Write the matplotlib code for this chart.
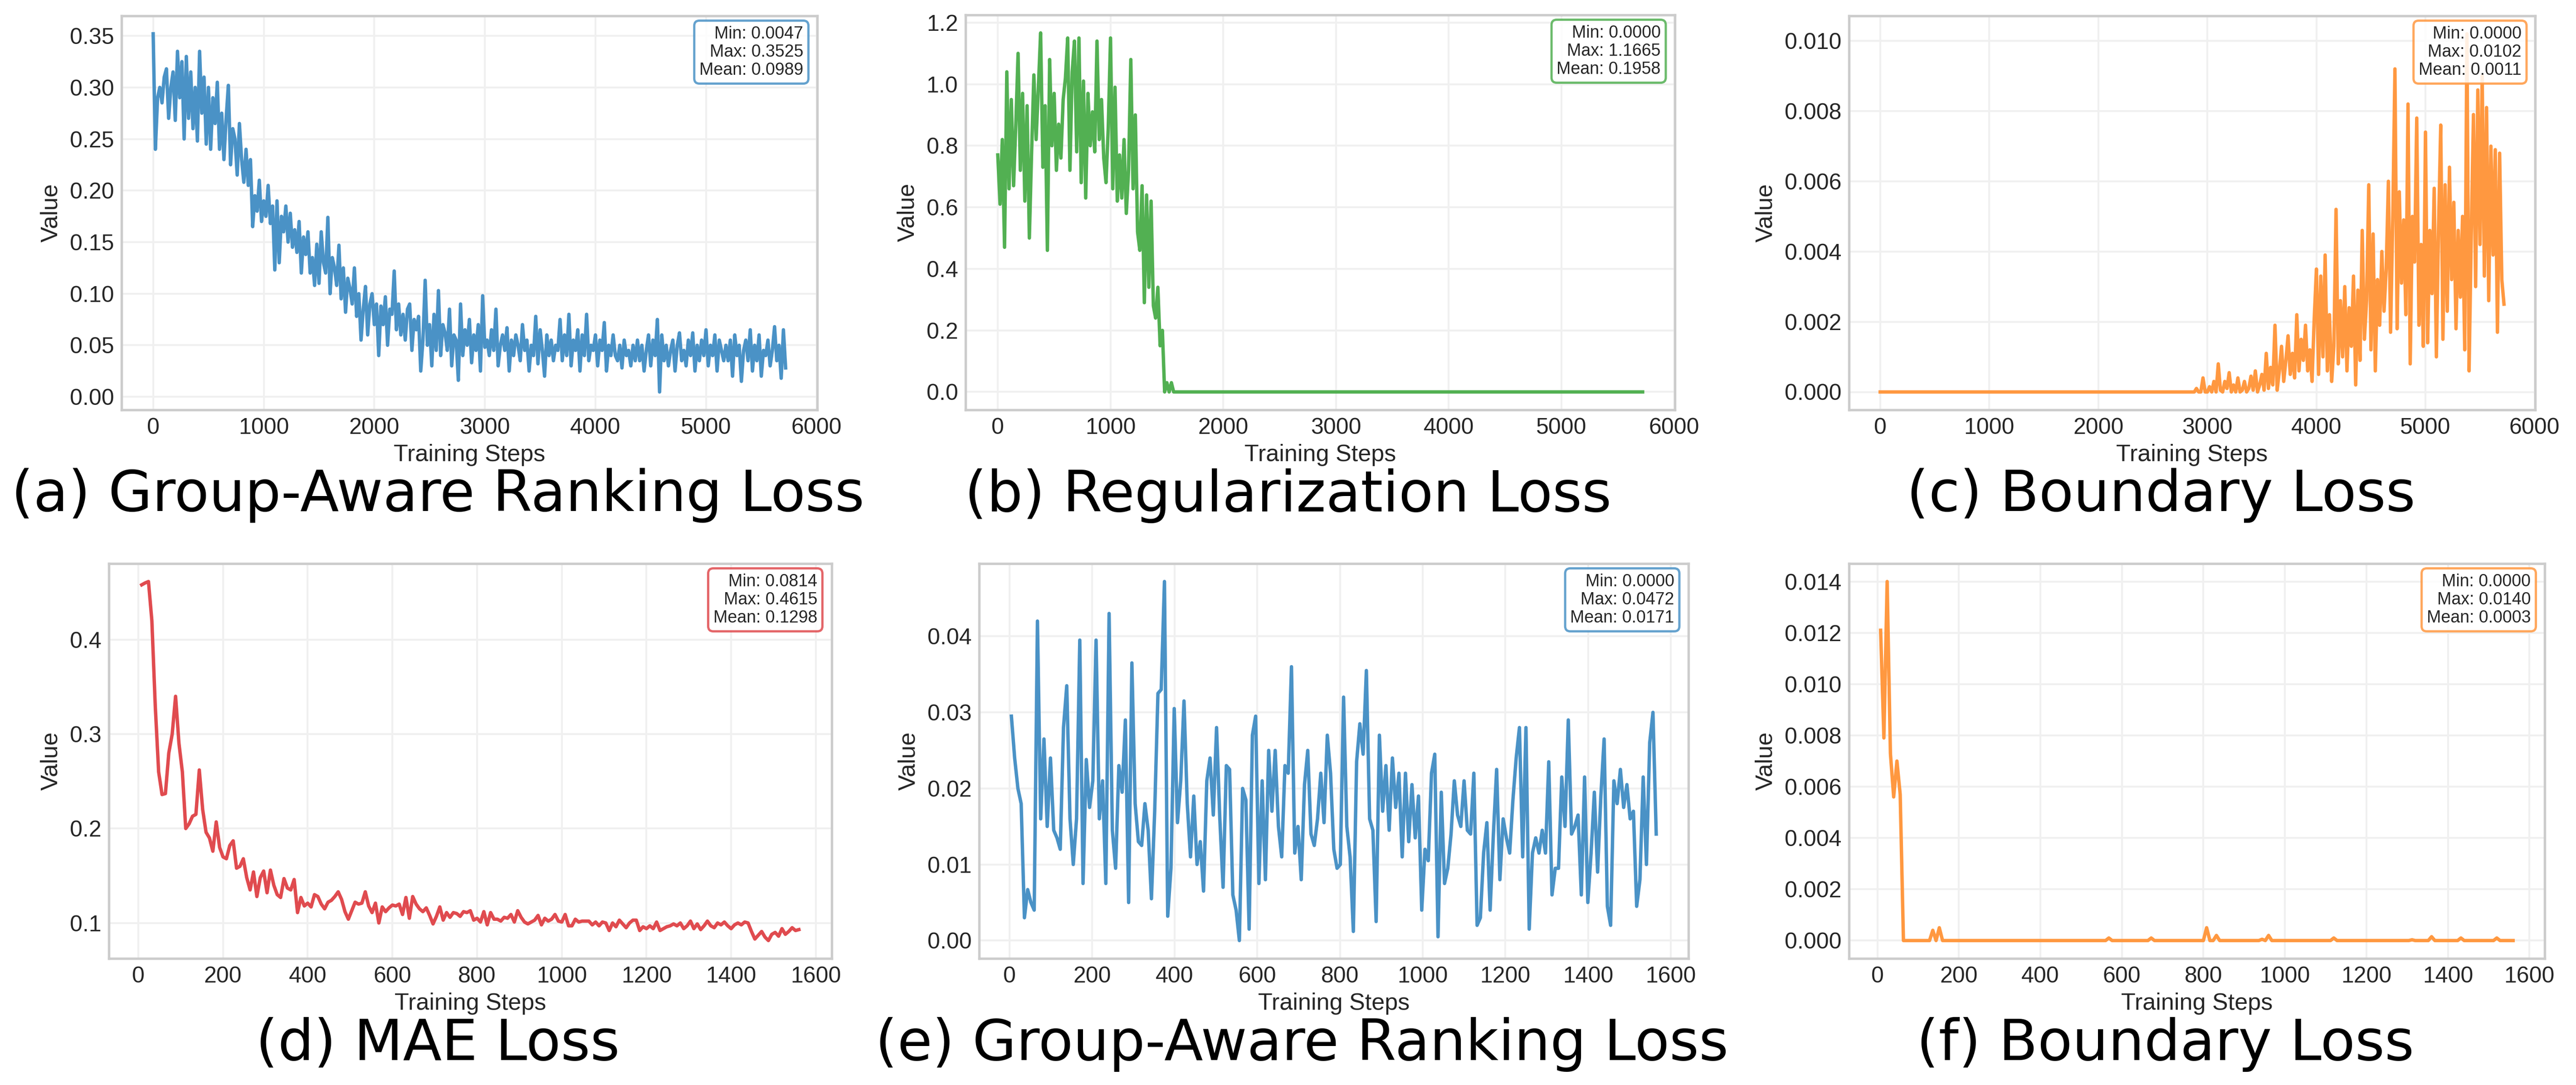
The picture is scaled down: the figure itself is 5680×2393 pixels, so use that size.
import numpy as np
import matplotlib.pyplot as plt

# ---------------- données ----------------
# run 1 (panneaux a-c) : un point toutes les 20 itérations
steps_long = np.arange(0, 5740, 20)

rank_loss_long = [
    0.352, 0.24, 0.29, 0.30, 0.285, 0.31, 0.318, 0.27, 0.30, 0.315,
    0.268, 0.335, 0.29, 0.325, 0.25, 0.33, 0.27, 0.315, 0.26, 0.30,
    0.248, 0.335, 0.275, 0.31, 0.245, 0.30, 0.24, 0.29, 0.265, 0.305,
    0.24, 0.275, 0.23, 0.27, 0.302, 0.225, 0.26, 0.25, 0.215, 0.265,
    0.23, 0.208, 0.24, 0.205, 0.23, 0.165, 0.195, 0.18, 0.21, 0.17,
    0.19, 0.175, 0.205, 0.168, 0.185, 0.123, 0.19, 0.13, 0.175, 0.16,
    0.185, 0.15, 0.178, 0.145, 0.162, 0.14, 0.17, 0.12, 0.155, 0.138,
    0.16, 0.12, 0.135, 0.108, 0.148, 0.11, 0.16, 0.13, 0.12, 0.174,
    0.10, 0.135, 0.125, 0.108, 0.147, 0.095, 0.125, 0.082, 0.115, 0.105,
    0.09, 0.125, 0.078, 0.10, 0.055, 0.085, 0.107, 0.06, 0.09, 0.10,
    0.07, 0.09, 0.04, 0.088, 0.07, 0.097, 0.05, 0.085, 0.08, 0.122,
    0.065, 0.09, 0.06, 0.08, 0.055, 0.085, 0.09, 0.045, 0.075, 0.065,
    0.078, 0.025, 0.055, 0.113, 0.05, 0.07, 0.03, 0.08, 0.045, 0.103,
    0.04, 0.07, 0.062, 0.045, 0.085, 0.03, 0.06, 0.055, 0.016, 0.09,
    0.04, 0.065, 0.05, 0.075, 0.033, 0.06, 0.045, 0.07, 0.025, 0.098,
    0.048, 0.055, 0.04, 0.065, 0.045, 0.085, 0.03, 0.05, 0.06, 0.045,
    0.067, 0.025, 0.055, 0.04, 0.06, 0.05, 0.035, 0.07, 0.045, 0.055,
    0.025, 0.05, 0.04, 0.078, 0.032, 0.065, 0.045, 0.02, 0.06, 0.04,
    0.055, 0.035, 0.05, 0.045, 0.075, 0.035, 0.06, 0.04, 0.08, 0.03,
    0.055, 0.045, 0.065, 0.025, 0.06, 0.04, 0.08, 0.035, 0.05, 0.045,
    0.06, 0.03, 0.055, 0.045, 0.072, 0.025, 0.05, 0.04, 0.06, 0.04,
    0.035, 0.05, 0.028, 0.055, 0.04, 0.045, 0.03, 0.05, 0.035, 0.055,
    0.035, 0.05, 0.025, 0.045, 0.06, 0.03, 0.055, 0.04, 0.075, 0.0047,
    0.06, 0.035, 0.05, 0.03, 0.045, 0.055, 0.025, 0.05, 0.062, 0.035,
    0.045, 0.03, 0.055, 0.04, 0.062, 0.025, 0.05, 0.035, 0.055, 0.04,
    0.065, 0.03, 0.05, 0.04, 0.06, 0.025, 0.055, 0.045, 0.035, 0.05,
    0.035, 0.055, 0.02, 0.06, 0.04, 0.05, 0.015, 0.045, 0.055, 0.035,
    0.065, 0.025, 0.05, 0.035, 0.06, 0.02, 0.045, 0.04, 0.055, 0.03,
    0.045, 0.068, 0.035, 0.05, 0.018, 0.065, 0.028,
]

reg_loss_long = [
    0.77, 0.61, 0.82, 0.47, 1.04, 0.66, 0.95, 0.67, 0.87, 1.10,
    0.72, 0.97, 0.62, 0.93, 0.50, 0.78, 1.03, 0.82, 0.99, 1.1665,
    0.73, 0.93, 0.46, 1.08, 0.80, 0.97, 0.72, 0.87, 0.76, 0.95,
    1.02, 1.15, 0.72, 1.04, 1.14, 0.78, 1.15, 0.68, 1.01, 0.63,
    0.97, 0.80, 0.91, 0.78, 1.14, 0.82, 0.95, 0.76, 0.68, 0.86,
    1.15, 0.66, 0.99, 0.62, 0.77, 0.63, 0.82, 0.58, 0.72, 1.08,
    0.66, 0.90, 0.52, 0.46, 0.67, 0.29, 0.64, 0.34, 0.62, 0.28,
    0.24, 0.34, 0.15, 0.20, 0.0, 0.03, 0.0, 0.03,
] + [0.0] * 209

# perte de bord : nulle jusqu'à ~2860 puis valeurs en unités de 1e-3
boundary_long_e3 = [0.0] * 144 + [
    0.0, 0.1, 0.0, 0.0, 0.4, 0.0, 0.0, 0.15, 0.0, 0.3,
    0.0, 0.8, 0.05, 0.0, 0.3, 0.1, 0.55, 0.0, 0.2, 0.0,
    0.4, 0.0, 0.05, 0.3, 0.0, 0.1, 0.45, 0.05, 0.6, 0.0,
    0.2, 0.5, 0.05, 1.1, 0.1, 0.7, 0.2, 1.9, 0.05, 0.6,
    1.3, 0.3, 0.9, 1.6, 0.5, 1.1, 0.4, 2.2, 0.6, 1.5,
    0.9, 1.9, 0.6, 1.2, 0.3, 2.1, 3.5, 0.5, 3.3, 1.0,
    3.9, 0.6, 2.2, 0.3, 1.3, 5.2, 0.8, 2.6, 1.0, 3.0,
    0.6, 2.4, 1.3, 3.3, 0.2, 2.9, 0.9, 4.6, 1.5, 2.6,
    5.9, 1.2, 4.5, 0.6, 3.2, 1.9, 4.0, 2.3, 3.5, 6.0,
    1.7, 4.9, 9.2, 1.8, 5.7, 3.1, 4.9, 2.2, 8.2, 0.8,
    5.0, 3.7, 7.8, 1.9, 4.2, 1.3, 7.4, 1.4, 4.6, 2.8,
    5.8, 1.0, 4.7, 7.6, 1.5, 5.9, 2.3, 6.4, 3.2, 5.4,
    1.8, 4.6, 2.7, 5.0, 1.2, 10.2, 0.6, 4.5, 7.9, 3.0,
    8.6, 4.2, 9.0, 3.3, 8.1, 2.6, 7.0, 3.9, 6.9, 1.7,
    6.8, 3.2, 2.5,
]

# run 2 (panneaux d-f)
mae_loss = [
    0.458, 0.460, 0.4615, 0.42, 0.33, 0.26, 0.236, 0.237, 0.28, 0.30,
    0.34, 0.29, 0.26, 0.20, 0.205, 0.213, 0.215, 0.262, 0.22, 0.196,
    0.19, 0.176, 0.207, 0.18, 0.17, 0.168, 0.182, 0.187, 0.158, 0.16,
    0.168, 0.148, 0.135, 0.154, 0.128, 0.148, 0.155, 0.132, 0.156, 0.14,
    0.13, 0.127, 0.147, 0.137, 0.135, 0.146, 0.111, 0.127, 0.118, 0.121,
    0.117, 0.13, 0.128, 0.12, 0.115, 0.122, 0.124, 0.128, 0.133, 0.125,
    0.112, 0.104, 0.113, 0.122, 0.12, 0.121, 0.133, 0.118, 0.111, 0.121,
    0.100, 0.117, 0.112, 0.116, 0.119, 0.118, 0.12, 0.109, 0.127, 0.105,
    0.128, 0.12, 0.115, 0.112, 0.116, 0.108, 0.099, 0.107, 0.117, 0.103,
    0.111, 0.106, 0.111, 0.11, 0.107, 0.112, 0.111, 0.113, 0.103, 0.105,
    0.101, 0.112, 0.098, 0.111, 0.104, 0.104, 0.102, 0.106, 0.105, 0.109,
    0.101, 0.113, 0.106, 0.101, 0.099, 0.101, 0.103, 0.108, 0.098, 0.105,
    0.102, 0.104, 0.109, 0.102, 0.101, 0.109, 0.097, 0.097, 0.104, 0.101,
    0.102, 0.102, 0.102, 0.098, 0.101, 0.097, 0.101, 0.10, 0.092, 0.10,
    0.096, 0.103, 0.099, 0.095, 0.10, 0.103, 0.103, 0.092, 0.096, 0.094,
    0.097, 0.094, 0.101, 0.092, 0.094, 0.096, 0.097, 0.099, 0.097, 0.10,
    0.094, 0.097, 0.102, 0.094, 0.099, 0.093, 0.097, 0.102, 0.097, 0.095,
    0.10, 0.098, 0.101, 0.097, 0.094, 0.098, 0.10, 0.098, 0.101, 0.10,
    0.091, 0.083, 0.087, 0.091, 0.085, 0.0814, 0.088, 0.09, 0.086, 0.094,
    0.088, 0.091, 0.095, 0.092, 0.093,
]

rank_loss_short = [
    0.0295, 0.024, 0.020, 0.018, 0.003, 0.0067, 0.005, 0.004, 0.042, 0.016,
    0.0265, 0.015, 0.024, 0.0145, 0.0135, 0.012, 0.028, 0.0335, 0.016, 0.010,
    0.016, 0.0395, 0.0075, 0.0238, 0.0175, 0.021, 0.0395, 0.016, 0.021, 0.0075,
    0.043, 0.0145, 0.0095, 0.023, 0.0195, 0.029, 0.005, 0.0365, 0.018, 0.013,
    0.0125, 0.018, 0.0145, 0.0055, 0.017, 0.0325, 0.033, 0.0472, 0.0032, 0.0095,
    0.0305, 0.0155, 0.021, 0.0315, 0.018, 0.011, 0.019, 0.010, 0.013, 0.0065,
    0.021, 0.024, 0.0165, 0.028, 0.016, 0.007, 0.023, 0.0225, 0.006, 0.004,
    0.0, 0.020, 0.0185, 0.0015, 0.027, 0.0295, 0.0075, 0.021, 0.008, 0.025,
    0.017, 0.025, 0.015, 0.011, 0.023, 0.022, 0.036, 0.0115, 0.015, 0.008,
    0.0205, 0.025, 0.014, 0.0125, 0.016, 0.022, 0.0155, 0.027, 0.022, 0.012,
    0.0095, 0.010, 0.032, 0.015, 0.011, 0.0012, 0.0235, 0.0285, 0.0245, 0.0355,
    0.016, 0.0145, 0.0025, 0.027, 0.017, 0.023, 0.0145, 0.024, 0.0175, 0.022,
    0.011, 0.022, 0.013, 0.0205, 0.0135, 0.019, 0.004, 0.012, 0.0105, 0.022,
    0.0245, 0.0005, 0.0195, 0.0075, 0.0095, 0.014, 0.021, 0.0165, 0.015, 0.021,
    0.0145, 0.014, 0.022, 0.002, 0.003, 0.0115, 0.0155, 0.004, 0.014, 0.0225,
    0.008, 0.016, 0.0135, 0.0115, 0.0185, 0.024, 0.028, 0.011, 0.028, 0.0015,
    0.0115, 0.0135, 0.0115, 0.0145, 0.0115, 0.0235, 0.006, 0.0095, 0.0095, 0.0215,
    0.015, 0.029, 0.014, 0.015, 0.0165, 0.006, 0.0215, 0.005, 0.0115, 0.0195,
    0.009, 0.019, 0.0265, 0.0045, 0.002, 0.021, 0.018, 0.0225, 0.0175, 0.0205,
    0.016, 0.017, 0.0045, 0.008, 0.0215, 0.010, 0.026, 0.030, 0.014,
]

boundary_short = (
    [0.0121, 0.0079, 0.0140, 0.0073, 0.0056, 0.0070, 0.0057, 0.0]
    + [0.0] * 8 + [0.0004, 0.0, 0.0005, 0.0]
    + [0.0] * 50 + [0.0001] + [0.0] * 12 + [0.0001]
    + [0.0] * 16 + [0.0005, 0.0, 0.0, 0.0002]
    + [0.0] * 13 + [0.00005, 0.0, 0.0002]
    + [0.0] * 19 + [0.0001] + [0.0] * 23 + [0.00003]
    + [0.0] * 5 + [0.00015] + [0.0] * 8 + [0.0001]
    + [0.0] * 10 + [0.0001] + [0.0] * 5
)

# statistiques affichées dans les encadrés
stat_min = [0.0047, 0.0000, 0.0000, 0.0814, 0.0000, 0.0000]
stat_max = [0.3525, 1.1665, 0.0102, 0.4615, 0.0472, 0.0140]
stat_mean = [0.0989, 0.1958, 0.0011, 0.1298, 0.0171, 0.0003]

titres = ['(a) Group-Aware Ranking Loss', '(b) Regularization Loss',
          '(c) Boundary Loss', '(d) MAE Loss',
          '(e) Group-Aware Ranking Loss', '(f) Boundary Loss']

couleurs = ['#4a92c6', '#52b052', '#ff9840', '#e04b4f', '#4a92c6', '#ff9840']


def main():
    plt.rcParams['font.family'] = ['Liberation Sans', 'DejaVu Sans']

    W, H = 5680, 2393
    fig = plt.figure(figsize=(W / 300, H / 300), dpi=300)

    # boîtes des axes en pixels (gauche, haut, droite, bas)
    boites = [(268, 35, 1802, 904), (2129, 33, 3693, 904), (4077, 35, 5590, 904),
              (240, 1243, 1834, 2114), (2159, 1243, 3723, 2114), (4077, 1243, 5611, 2114)]

    n_short = len(mae_loss)
    series = [
        (steps_long, rank_loss_long),
        (steps_long, reg_loss_long),
        (steps_long, np.array(boundary_long_e3) * 1e-3),
        (np.linspace(8, 1560, n_short), mae_loss),
        (np.linspace(5, 1565, len(rank_loss_short)), rank_loss_short),
        (np.linspace(8, 1560, len(boundary_short)), boundary_short),
    ]

    for k, ((x, y), (g, h, d, b)) in enumerate(zip(series, boites)):
        ax = fig.add_axes([g / W, 1 - b / H, (d - g) / W, (b - h) / H])
        ax.plot(x, y, color=couleurs[k], linewidth=1.8)

        ax.set_facecolor('white')
        ax.grid(True, color='#f0f0f0', linewidth=1.0)
        ax.set_axisbelow(True)
        for sp in ax.spines.values():
            sp.set_color('#cccccc')
            sp.set_linewidth(1.3)
        ax.tick_params(length=0, labelsize=12, colors='#262626', pad=4)

        ax.set_xlabel('Training Steps', fontsize=12.5, color='#262626', labelpad=3)
        ax.set_ylabel('Value', fontsize=12.5, color='#262626')

        texte = (f'Min: {stat_min[k]:.4f}\nMax: {stat_max[k]:.4f}\n'
                 f'Mean: {stat_mean[k]:.4f}')
        ax.text(0.98, 0.975, texte, transform=ax.transAxes, ha='right', va='top',
                fontsize=9, color='#262626', multialignment='right', linespacing=1.15,
                bbox=dict(boxstyle='round,pad=0.3', facecolor='white',
                          edgecolor=couleurs[k], linewidth=1.2, alpha=0.85))

        ax.text(0.455, -0.257, titres[k], transform=ax.transAxes, ha='center',
                va='baseline', fontsize=30, family='DejaVu Sans', color='black')

    fig.savefig('out.png', dpi=300)


if __name__ == "__main__":
    main()
